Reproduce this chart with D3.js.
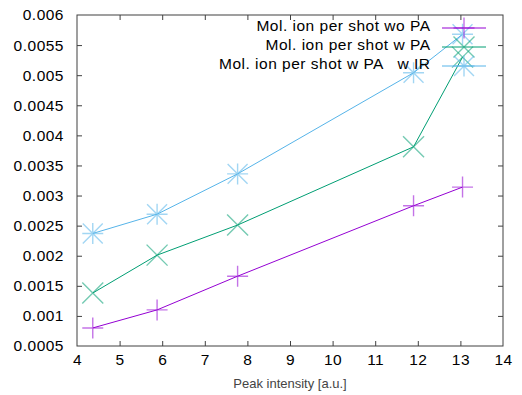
<!DOCTYPE html>
<html><head><meta charset="utf-8">
<script src="https://cdn.jsdelivr.net/npm/d3@7"></script>
<style>
html,body{margin:0;padding:0;background:#fff;}
svg{display:block;font-family:"Liberation Sans",Arial,sans-serif;}
</style></head>
<body>
<svg id="c" width="522" height="395"></svg>
<script>
const xValues = [4.37, 5.88, 7.77, 11.9, 13.05];
const seriesNames = ["Mol. ion per shot wo PA", "Mol. ion per shot w PA", "Mol. ion per shot w PA   w IR"];
const woPA = [0.00080, 0.00110, 0.00166, 0.00283, 0.00314];
const wPA = [0.00138, 0.00201, 0.00251, 0.00381, 0.00530];
const wPAwIR = [0.00237, 0.00269, 0.00336, 0.00504, 0.00568];
const seriesColors = ["#9400d3", "#009e73", "#56b4e9"];
const seriesMarkers = ["plus", "cross", "star"];
const xTicks = [4,5,6,7,8,9,10,11,12,13,14];
const yTicks = [0.0005,0.001,0.0015,0.002,0.0025,0.003,0.0035,0.004,0.0045,0.005,0.0055,0.006];
const yTickLabels = ["0.0005","0.001","0.0015","0.002","0.0025","0.003","0.0035","0.004","0.0045","0.005","0.0055","0.006"];
const xLabel = "Peak intensity [a.u.]";

const series = [woPA, wPA, wPAwIR];
const svg = d3.select("#c");
const L = 77, R = 503, T = 15, B = 346;
const x = d3.scaleLinear().domain([4,14]).range([L,R]);
const y = d3.scaleLinear().domain([0.0005,0.006]).range([B,T]);
const axisColor = "#404040";
const font = "'Liberation Sans',Arial,sans-serif";

// border
svg.append("rect").attr("x",L).attr("y",T).attr("width",R-L).attr("height",B-T)
  .attr("fill","none").attr("stroke",axisColor).attr("stroke-width",1);

// axes
const gx = svg.append("g").attr("transform",`translate(0,${B})`)
  .call(d3.axisBottom(x).tickValues(xTicks).tickSize(-5).tickPadding(8).tickFormat(d3.format("d")));
const gxt = svg.append("g").attr("transform",`translate(0,${T})`)
  .call(d3.axisTop(x).tickValues(xTicks).tickSize(-5).tickFormat(""));
const gy = svg.append("g").attr("transform",`translate(${L},0)`)
  .call(d3.axisLeft(y).tickValues(yTicks).tickSize(-5).tickPadding(13).tickFormat((d,i)=>yTickLabels[i]));
const gyr = svg.append("g").attr("transform",`translate(${R},0)`)
  .call(d3.axisRight(y).tickValues(yTicks).tickSize(-5).tickFormat(""));
[gx,gxt,gy,gyr].forEach(g=>{
  g.select(".domain").remove();
  g.selectAll(".tick line").attr("stroke",axisColor);
  g.selectAll("text").attr("fill","#000").attr("font-size",15.5)
    .attr("font-family",font).style("letter-spacing","0.5px");
});
gx.selectAll(".tick line").filter(d=>d===4||d===14).remove();
gxt.selectAll(".tick line").filter(d=>d===4||d===14).remove();
gy.selectAll(".tick line").filter(d=>d===0.0005||d===0.006).remove();
gyr.selectAll(".tick line").filter(d=>d===0.0005||d===0.006).remove();

svg.append("text").attr("x",(L+R)/2).attr("y",387.5).attr("text-anchor","middle")
  .attr("font-size",13).attr("fill","#444").text(xLabel);

function marker(g, cx, cy, type, color){
  const s = 10.5;
  const p = d3.path();
  if(type==="plus"||type==="star"){
    p.moveTo(cx-s,cy); p.lineTo(cx+s,cy);
    p.moveTo(cx,cy-s); p.lineTo(cx,cy+s);
  }
  if(type==="cross"||type==="star"){
    const d = type==="star"? s*0.95 : s;
    p.moveTo(cx-d,cy-d); p.lineTo(cx+d,cy+d);
    p.moveTo(cx-d,cy+d); p.lineTo(cx+d,cy-d);
  }
  g.append("path").attr("d",p.toString()).attr("stroke",color)
    .attr("stroke-width",1.4).attr("stroke-opacity",0.55).attr("fill","none");
}

const line = d3.line().x((d,i)=>x(xValues[i])).y(d=>y(d));
series.forEach((vals,si)=>{
  const g = svg.append("g");
  g.append("path").datum(vals).attr("d",line).attr("fill","none")
    .attr("stroke",seriesColors[si]).attr("stroke-width",1);
  vals.forEach((v,i)=>marker(g, x(xValues[i]), y(v), seriesMarkers[si], seriesColors[si]));
});

// legend
const legY = [28, 47, 66];
seriesNames.forEach((name,i)=>{
  const g = svg.append("g");
  g.append("text").attr("x",430.5).attr("y",legY[i]+3).attr("font-family",font)
    .attr("text-anchor","end").attr("font-size",15.5).attr("fill","#000")
    .style("white-space","pre").style("letter-spacing","0.5px").text(name);
  g.append("line").attr("x1",442).attr("x2",486).attr("y1",legY[i]).attr("y2",legY[i])
    .attr("stroke",seriesColors[i]).attr("stroke-width",1);
  marker(g, 464, legY[i], seriesMarkers[i], seriesColors[i]);
});
</script>
</body></html>
